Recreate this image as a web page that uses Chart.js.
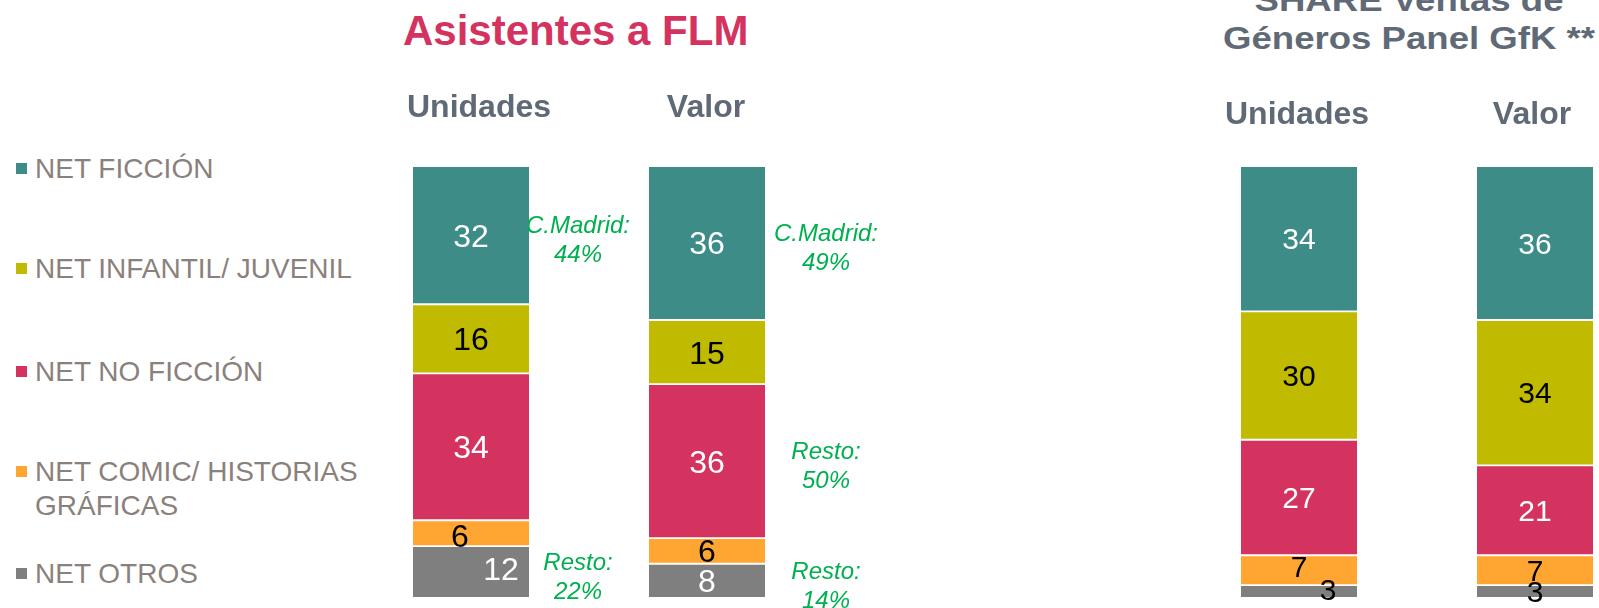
<!DOCTYPE html>
<html>
<head>
<meta charset="utf-8">
<script src="https://cdn.jsdelivr.net/npm/chart.js@4/dist/chart.umd.min.js"></script>
<style>
  html, body { margin: 0; padding: 0; width: 1599px; height: 608px; overflow: hidden; background: #fff; }
  body { position: relative; font-family: "Liberation Sans", Arial, sans-serif; }
  canvas { position: absolute; }
  #titleFlm {
    position: absolute; left: 403px; top: 9.5px;
    font-size: 42px; line-height: 42px; font-weight: bold; color: #d4335f; white-space: nowrap;
  }
  #titleGfk {
    position: absolute; left: 1159px; top: -18px; width: 500px; text-align: center;
    font-size: 31px; line-height: 38px; font-weight: bold; color: #5f6a76;
    transform: scaleX(1.18); transform-origin: center; white-space: nowrap;
  }
  .legend-item { position: absolute; left: 0; }
  .legend-item .box { position: absolute; left: 16px; top: 10.5px; width: 11px; height: 11px; }
  .legend-item .txt {
    position: absolute; left: 35px; top: 0; width: 335px;
    font-size: 28px; line-height: 34px; color: #8a817c;
  }
</style>
</head>
<body>
<div id="titleFlm">Asistentes a FLM</div>
<div id="titleGfk">SHARE Ventas de<br>Géneros Panel GfK **</div>
<div id="legend"></div>
<canvas id="flmUnidades" width="360" height="532"></canvas>
<canvas id="flmValor" width="360" height="532"></canvas>
<canvas id="gfkUnidades" width="240" height="532"></canvas>
<canvas id="gfkValor" width="240" height="532"></canvas>

<script>
// ================= DATA =================
const series = ["NET FICCIÓN", "NET INFANTIL/ JUVENIL", "NET NO FICCIÓN", "NET COMIC/ HISTORIAS GRÁFICAS", "NET OTROS"];
const colors = ["#3d8c87", "#c0bb00", "#d4335f", "#fea631", "#7f7f7f"];
const columns = ["Unidades", "Valor"];

// Asistentes a FLM
const flmUnidades = [32, 16, 34, 6, 12];
const flmValor = [36, 15, 36, 6, 8];

// SHARE Ventas de Géneros Panel GfK
const gfkUnidades = [34, 30, 27, 7, 3];
const gfkValor = [36, 34, 21, 7, 3];

// green side notes, one slot per segment
const flmUnidadesNotes = [["C.Madrid:", "44%"], null, null, null, ["Resto:", "22%"]];
const flmValorNotes = [["C.Madrid:", "49%"], null, ["Resto:", "50%"], null, ["Resto:", "14%"]];

// ================= LEGEND =================
const legendBaselines = [179, 279, 382, 482, 584];
const legend = document.getElementById("legend");
series.forEach((name, i) => {
  const item = document.createElement("div");
  item.className = "legend-item";
  item.style.top = (legendBaselines[i] - 26.7) + "px";
  item.innerHTML = `<span class="box" style="background:${colors[i]}"></span><span class="txt">${name}</span>`;
  legend.appendChild(item);
});

// ================= PLUGINS =================
const FONT = '"Liberation Sans", Arial, sans-serif';

const segmentLabels = {
  id: "segmentLabels",
  afterDatasetsDraw(chart, args, opts) {
    const ctx = chart.ctx;
    ctx.save();
    ctx.textAlign = "center";
    ctx.textBaseline = "alphabetic";
    ctx.font = `${opts.size}px ${FONT}`;
    chart.data.datasets.forEach((ds, i) => {
      const el = chart.getDatasetMeta(i).data[0];
      const nudge = (opts.nudge && opts.nudge[i]) || {};
      const x = el.x + (nudge.dx || 0);
      const y = (el.y + el.base) / 2 + (nudge.dy || 0) + opts.size * 0.358;
      ctx.fillStyle = opts.colors[i];
      ctx.fillText(String(ds.data[0]), x, y);
    });
    ctx.restore();
  }
};

const columnTitle = {
  id: "columnTitle",
  afterDraw(chart, args, opts) {
    const ctx = chart.ctx;
    const area = chart.chartArea;
    ctx.save();
    ctx.textAlign = "center";
    ctx.font = `bold 32px ${FONT}`;
    ctx.fillStyle = "#5f6a76";
    ctx.fillText(chart.data.labels[0], (area.left + area.right) / 2 + opts.dx, area.top - opts.gap);
    ctx.restore();
  }
};

const sideNotes = {
  id: "sideNotes",
  afterDraw(chart, args, opts) {
    if (!opts.notes) return;
    const ctx = chart.ctx;
    ctx.save();
    ctx.textAlign = "center";
    ctx.font = `italic 24px ${FONT}`;
    ctx.fillStyle = "#00b050";
    opts.notes.forEach((lines, i) => {
      if (!lines) return;
      const el = chart.getDatasetMeta(i).data[0];
      const cy = (el.y + el.base) / 2 + opts.dy;
      const cx = el.x + opts.dx;
      const lh = 29;
      lines.forEach((t, k) => {
        const lineMid = cy + (k - (lines.length - 1) / 2) * lh;
        ctx.fillText(t, cx, lineMid + 24 * 0.358);
      });
    });
    ctx.restore();
  }
};

// ================= CHARTS =================
function makeBar(id, column, values, cfg) {
  const canvas = document.getElementById(id);
  const total = values.reduce((a, b) => a + b, 0);
  canvas.style.left = (cfg.center - canvas.width / 2) + "px";
  canvas.style.top = (166 - 90) + "px";

  return new Chart(canvas.getContext("2d"), {
    type: "bar",
    data: {
      labels: [column],
      datasets: series.map((name, i) => ({
        label: name,
        data: [values[i]],
        backgroundColor: colors[i],
        borderColor: "#ffffff",
        borderWidth: { top: 1.25, bottom: 1.25, left: 0, right: 0 },
        borderSkipped: false,
        barThickness: 116
      }))
    },
    options: {
      responsive: false,
      animation: false,
      layout: { padding: { top: 90, bottom: 10, left: 0, right: 0 } },
      plugins: {
        legend: { display: false },
        tooltip: { enabled: false },
        segmentLabels: { size: cfg.labelSize, colors: cfg.labelColors, nudge: cfg.nudge },
        columnTitle: { gap: cfg.titleGap, dx: cfg.titleDx || 0 },
        sideNotes: { notes: cfg.notes, dx: cfg.noteDx, dy: 4 }
      },
      scales: {
        x: { display: false, stacked: true },
        y: { display: false, stacked: true, reverse: true, min: 0, max: total }
      }
    },
    plugins: [segmentLabels, columnTitle, sideNotes]
  });
}

const flmColors = ["#fff", "#000", "#fff", "#000", "#fff"];
const gfkColors = ["#fff", "#000", "#fff", "#000", "#000"];

makeBar("flmUnidades", columns[0], flmUnidades, {
  center: 470.5, labelSize: 32, labelColors: flmColors, titleGap: 49, titleDx: 8,
  notes: flmUnidadesNotes, noteDx: 107,
  nudge: { 3: { dx: -11, dy: 2 }, 4: { dx: 30, dy: -4 } }
});
makeBar("flmValor", columns[1], flmValor, {
  center: 706.5, labelSize: 32, labelColors: flmColors, titleGap: 49, titleDx: -1,
  notes: flmValorNotes, noteDx: 119
});
makeBar("gfkUnidades", columns[0], gfkUnidades, {
  center: 1299, labelSize: 30, labelColors: gfkColors, titleGap: 42, titleDx: -2,
  nudge: { 3: { dy: -4 }, 4: { dx: 29, dy: -2 } }
});
makeBar("gfkValor", columns[1], gfkValor, {
  center: 1535, labelSize: 30, labelColors: gfkColors, titleGap: 42, titleDx: -3
});
</script>
</body>
</html>
